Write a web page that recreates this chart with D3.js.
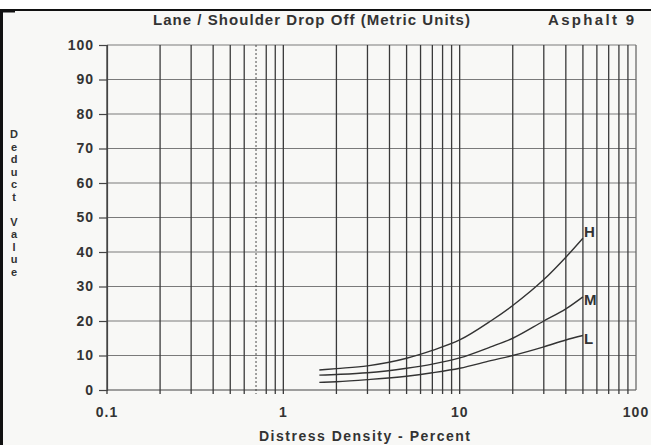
<!DOCTYPE html>
<html>
<head>
<meta charset="utf-8">
<script src="https://cdn.jsdelivr.net/npm/d3@7"></script>
<style>
  html, body { margin: 0; padding: 0; background: #fff; }
  svg { display: block; font-family: Arial, "Liberation Sans", Helvetica, sans-serif; }
  .lbl { fill: #333; font-weight: bold; }
</style>
</head>
<body>
<div id="chart"></div>
<script>
// chart data
var density = [1.6, 2, 3, 5, 7, 10, 15, 20, 30, 40, 50];
var highVals = [5.8, 6.2, 7.0, 9.2, 11.5, 14.5, 20, 24.5, 32, 38.5, 44];
var medVals = [4.3, 4.5, 5.0, 6.3, 7.5, 9.3, 12.5, 15, 20, 23.5, 27];
var lowVals = [2.2, 2.4, 3.0, 4.0, 5.0, 6.3, 8.5, 10, 12.5, 14.5, 15.8];
var severity = ['H', 'M', 'L'];
var xLabels = [0.1, 1, 10, 100];
var yTicks = [0, 10, 20, 30, 40, 50, 60, 70, 80, 90, 100];
var gridX = [];
[0.1, 1, 10].forEach(function(dec) {
  for (var k = 1; k <= 9; k++) gridX.push(+(dec * k).toPrecision(2));
});
gridX.push(100);

var W = 651, H = 445;
var x = d3.scaleLog().domain([0.1, 100]).range([107, 636]);
var y = d3.scaleLinear().domain([0, 100]).range([390, 45]);

var svg = d3.select('#chart').append('svg')
  .attr('width', W)
  .attr('height', H);

// scanned paper background + page frame
svg.append('rect').attr('x', 0).attr('y', 0).attr('width', W).attr('height', H).attr('fill', '#fff');
svg.append('rect').attr('x', 0).attr('y', 11).attr('width', W).attr('height', H - 11).attr('fill', '#f8f8f6');
svg.append('rect').attr('x', 0).attr('y', 9).attr('width', W).attr('height', 2).attr('fill', '#111');
svg.append('rect').attr('x', 0).attr('y', 9).attr('width', 3).attr('height', H - 9).attr('fill', '#111');
svg.append('rect').attr('x', 0).attr('y', 11).attr('width', 15).attr('height', 1.5).attr('fill', '#111');

// horizontal grid
svg.append('g').selectAll('line')
  .data(yTicks)
  .enter().append('line')
  .attr('x1', x(0.1)).attr('x2', x(100))
  .attr('y1', function(d) { return y(d); })
  .attr('y2', function(d) { return y(d); })
  .attr('stroke', function(d) { return d === 0 ? '#444' : '#7a7a7a'; })
  .attr('stroke-width', 1.2);

// vertical grid
svg.append('g').selectAll('line')
  .data(gridX)
  .enter().append('line')
  .attr('x1', function(d) { return x(d); })
  .attr('x2', function(d) { return x(d); })
  .attr('y1', y(100))
  .attr('y2', function(d) { return d === 100 ? y(0) : y(0) + 4; })
  .attr('stroke', function(d) { return d === 100 ? '#6a6a6a' : '#3a3a3a'; })
  .attr('stroke-width', 1.3)
  .attr('stroke-dasharray', function(d) { return d === 0.7 ? '2,2' : null; })
  .attr('opacity', function(d) { return d === 0.7 ? 0.7 : 1; });

// y axis
var yAxis = d3.axisLeft(y).tickValues(yTicks).tickSize(8).tickPadding(5);
var gy = svg.append('g').attr('transform', 'translate(' + x(0.1) + ',0)').call(yAxis);
gy.select('.domain').attr('stroke', '#444').attr('stroke-width', 1.2);
gy.selectAll('.tick line').attr('stroke', '#444').attr('stroke-width', 1.2);
gy.selectAll('.tick text')
  .attr('class', 'lbl')
  .style('font-size', '14px')
  .style('letter-spacing', '1px')
  .attr('fill', '#333');

// x tick labels
svg.append('g').selectAll('text')
  .data(xLabels)
  .enter().append('text')
  .attr('class', 'lbl')
  .attr('x', function(d) { return x(d); })
  .attr('y', 417)
  .attr('text-anchor', 'middle')
  .style('font-size', '14px')
  .style('letter-spacing', '1px')
  .text(function(d) { return d; });

// curves
var line = d3.line()
  .x(function(d) { return x(d[0]); })
  .y(function(d) { return y(d[1]); })
  .curve(d3.curveMonotoneX);

var series = [highVals, medVals, lowVals];
series.forEach(function(vals, i) {
  var pts = density.map(function(dv, j) { return [dv, vals[j]]; });
  svg.append('path')
    .datum(pts)
    .attr('d', line)
    .attr('fill', 'none')
    .attr('stroke', '#333')
    .attr('stroke-width', 1.4);
  var last = pts[pts.length - 1];
  svg.append('text')
    .attr('class', 'lbl')
    .attr('x', x(last[0]) + 1)
    .attr('y', y(last[1]) + (i === 0 ? -6 : 3))
    .attr('dy', '0.35em')
    .style('font-size', '15px')
    .text(severity[i]);
});

// titles
svg.append('text')
  .attr('class', 'lbl')
  .attr('x', 153)
  .attr('y', 25)
  .attr('textLength', 317)
  .attr('lengthAdjust', 'spacing')
  .style('font-size', '15px')
  .text('Lane / Shoulder Drop Off (Metric Units)');

svg.append('text')
  .attr('class', 'lbl')
  .attr('x', 548)
  .attr('y', 25)
  .attr('textLength', 86)
  .attr('lengthAdjust', 'spacing')
  .style('font-size', '15px')
  .text('Asphalt 9');

svg.append('text')
  .attr('class', 'lbl')
  .attr('x', 259)
  .attr('y', 441)
  .attr('textLength', 211)
  .attr('lengthAdjust', 'spacing')
  .style('font-size', '14px')
  .text('Distress Density - Percent');

// stacked y label, one upright vertical text
svg.append('text')
  .attr('class', 'lbl')
  .attr('x', 14)
  .attr('y', 128)
  .style('writing-mode', 'vertical-rl')
  .style('text-orientation', 'upright')
  .style('font-size', '11px')
  .style('letter-spacing', '0.5px')
  .text('Deduct Value');
</script>
</body>
</html>
